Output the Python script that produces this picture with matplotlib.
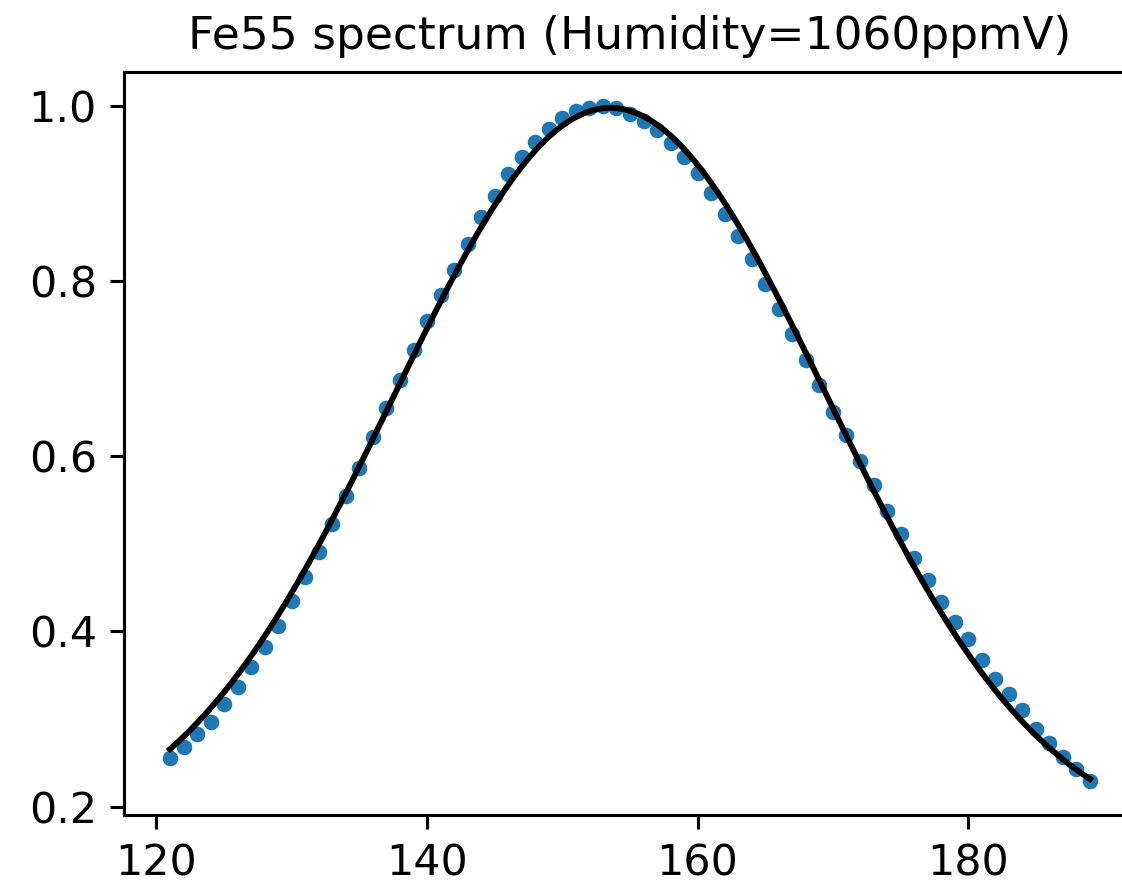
import matplotlib
matplotlib.use('Agg')
import matplotlib.pyplot as plt
import numpy as np

# --- dados (canal x contagem normalizada) ---
canais = np.arange(121, 190)
contagens = [
    0.256, 0.268, 0.283, 0.297, 0.317, 0.336, 0.359, 0.382, 0.406, 0.435,
    0.462, 0.491, 0.523, 0.554, 0.587, 0.622, 0.655, 0.687, 0.721, 0.754,
    0.784, 0.813, 0.842, 0.873, 0.897, 0.922, 0.941, 0.959, 0.974, 0.986,
    0.994, 0.998, 1.000, 0.997, 0.991, 0.983, 0.972, 0.957, 0.941, 0.923,
    0.901, 0.877, 0.851, 0.825, 0.796, 0.768, 0.739, 0.710, 0.681, 0.651,
    0.624, 0.595, 0.567, 0.538, 0.511, 0.484, 0.459, 0.433, 0.411, 0.391,
    0.367, 0.346, 0.329, 0.310, 0.289, 0.273, 0.257, 0.243, 0.229,
]
titulo = 'Fe55 spectrum (Humidity=1060ppmV)'

y = np.array(contagens)

# ajuste gaussiana + constante por minimos quadrados (busca em mu, sigma)
melhor = None
for mu in np.arange(150.0, 157.0, 0.05):
    for sigma in np.arange(10.0, 30.0, 0.05):
        g = np.exp(-0.5 * ((canais - mu) / sigma) ** 2)
        A = np.column_stack([g, np.ones_like(g)])
        p, *_ = np.linalg.lstsq(A, y, rcond=None)
        erro = np.sum((A @ p - y) ** 2)
        if melhor is None or erro < melhor[0]:
            melhor = (erro, mu, sigma, p)
_, mu, sigma, (amp, base) = melhor

x_fit = np.linspace(canais[0], canais[-1], 400)
y_fit = amp * np.exp(-0.5 * ((x_fit - mu) / sigma) ** 2) + base

fig = plt.figure(figsize=(1122 / 280, 890 / 280), dpi=280)
# o eixo passa da borda direita da imagem (recorte do original)
ax = fig.add_axes([0.1105, 0.0843, 0.902, 0.8348])
ax.plot(canais, y, '.', color='#1f77b4')
ax.plot(x_fit, y_fit, color='black', lw=1.5)
ax.set_title(titulo, fontsize=11.7)
ax.set_xticks([120, 140, 160, 180])
ax.set_yticks([0.2, 0.4, 0.6, 0.8, 1.0])
ax.tick_params(labelsize=11)

fig.savefig('out.png', dpi=280)
